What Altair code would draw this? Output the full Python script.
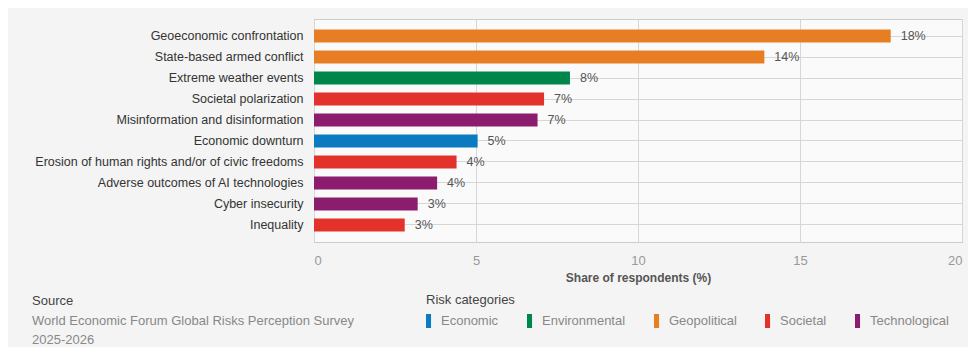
import altair as alt
import pandas as pd

# ---- data ----
risks = [
    "Geoeconomic confrontation",
    "State-based armed conflict",
    "Extreme weather events",
    "Societal polarization",
    "Misinformation and disinformation",
    "Economic downturn",
    "Erosion of human rights and/or of civic freedoms",
    "Adverse outcomes of AI technologies",
    "Cyber insecurity",
    "Inequality",
]
shares = [17.8, 13.9, 7.9, 7.1, 6.9, 5.05, 4.4, 3.8, 3.2, 2.8]
categories = [
    "Geopolitical", "Geopolitical", "Environmental", "Societal", "Technological",
    "Economic", "Societal", "Technological", "Technological", "Societal",
]
cat_order = ["Economic", "Environmental", "Geopolitical", "Societal", "Technological"]
cat_colors = ["#0b7bc1", "#00854a", "#e87e23", "#e3322b", "#8c1d6e"]
x_ticks = [0, 5, 10, 15, 20]
source_lines = ["Source", "World Economic Forum Global Risks Perception Survey", "2025-2026"]

FONT = "Liberation Sans"

df = pd.DataFrame({"risk": risks, "share": shares, "category": categories})
df["label"] = [f"{round(v)}%" for v in shares]

y_enc = alt.Y(
    "risk:N",
    sort=risks,
    title=None,
    scale=alt.Scale(paddingInner=0.38, paddingOuter=0.5),
    axis=alt.Axis(
        labelFont=FONT, labelFontSize=12.5, labelColor="#333333",
        labelPadding=11, ticks=False, tickSize=0, domain=False,
        grid=True, gridColor="#d6d6d6", gridWidth=1, bandPosition=0.5,
        labelLimit=320,
    ),
)
x_enc = alt.X(
    "share:Q",
    scale=alt.Scale(domain=[0, 20], nice=False),
    axis=alt.Axis(
        values=x_ticks, title="Share of respondents (%)",
        labelFont=FONT, labelFontSize=13, labelColor="#999999",
        labelPadding=12, ticks=False, tickSize=0, domain=False,
        grid=True, gridColor="#d6d6d6",
        titleFont=FONT, titleFontSize=12, titleFontWeight="bold",
        titleColor="#555555", titlePadding=5,
    ),
)

bars = alt.Chart(df).mark_bar().encode(
    x=x_enc,
    y=y_enc,
    color=alt.Color(
        "category:N",
        scale=alt.Scale(domain=cat_order, range=cat_colors),
        legend=alt.Legend(
            orient="none", legendX=112, legendY=275, direction="horizontal",
            title="Risk categories", titleFont=FONT, titleFontSize=13,
            titleFontWeight="normal", titleColor="#444444", titlePadding=7,
            labelFont=FONT, labelFontSize=13, labelColor="#888888",
            symbolType="M-1,-1H-0.28V1H-1Z", symbolSize=196,
            symbolStrokeWidth=0, symbolOpacity=1, labelOffset=1,
            columnPadding=28, padding=0,
        ),
    ),
)

labels = alt.Chart(df).mark_text(
    align="left", baseline="middle", dx=10, font=FONT, fontSize=12.5, color="#555555"
).encode(x="share:Q", y=alt.Y("risk:N", sort=risks), text="label:N")

src_layers = []
src_y = [282, 302, 321]
src_colors = ["#444444", "#888888", "#888888"]
for line, yy, col in zip(source_lines, src_y, src_colors):
    src_layers.append(
        alt.Chart(pd.DataFrame({"t": [line]})).mark_text(
            align="left", baseline="middle", font=FONT, fontSize=13, color=col
        ).encode(x=alt.value(-282), y=alt.value(yy), text="t:N")
    )

chart = alt.layer(bars, labels, *src_layers).properties(
    width=648,
    height=223,
    background="#f4f4f4",
    padding={"left": 306, "top": 11, "right": 6, "bottom": 105},
    autosize=alt.AutoSizeParams(type="none"),
).configure_view(
    stroke="#cccccc", fill="#fafafa"
)

chart.save("out.html", embed_options={"renderer": "svg", "actions": False})
